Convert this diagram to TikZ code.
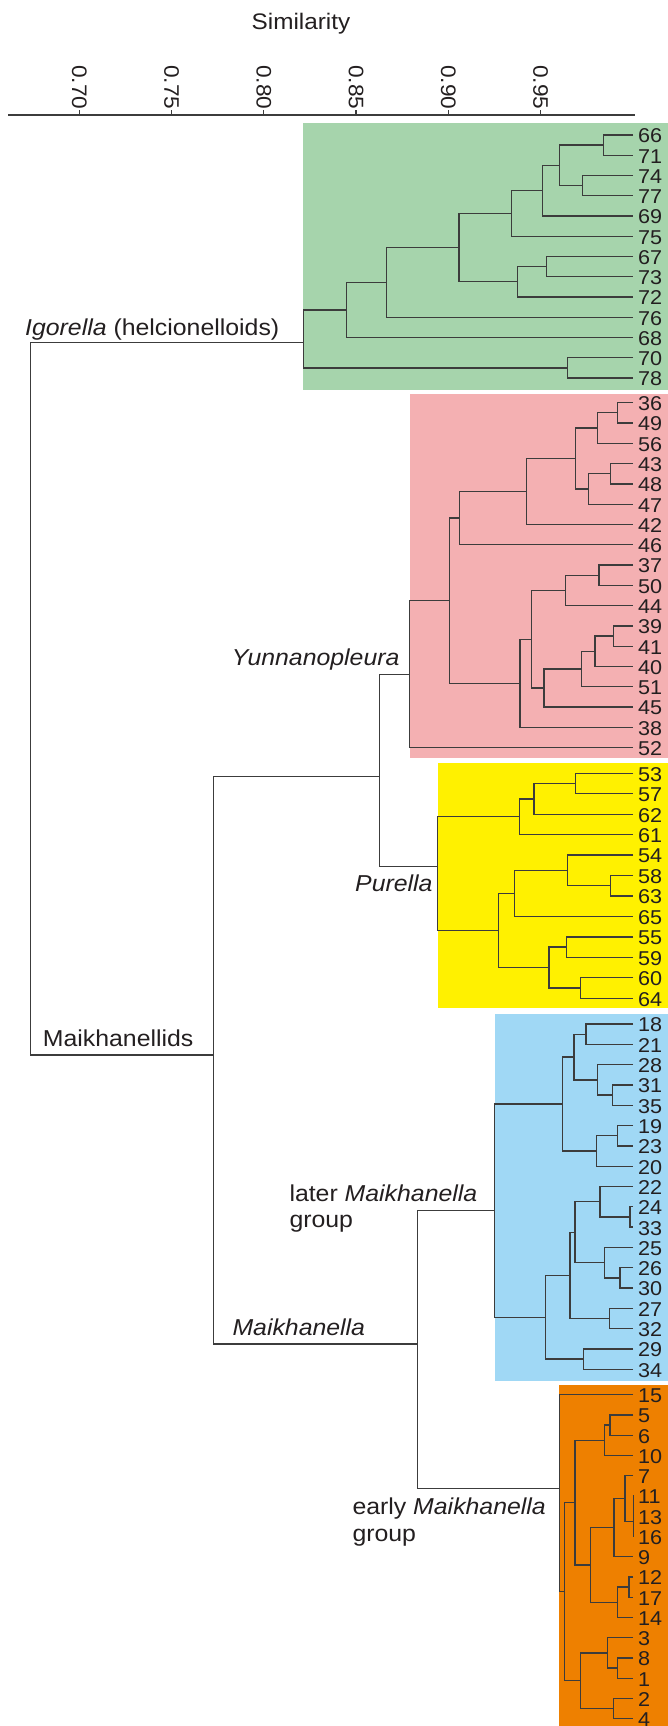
\documentclass[tikz,border=0pt]{standalone}
\usepackage{fontspec}
\setmainfont[FakeStretch=1.08]{Liberation Sans}
\usetikzlibrary{calc}
\definecolor{gbox}{RGB}{166,212,172}
\definecolor{pbox}{RGB}{244,176,178}
\definecolor{ybox}{RGB}{255,241,0}
\definecolor{bbox}{RGB}{160,216,245}
\definecolor{obox}{RGB}{238,128,0}
\definecolor{ink}{RGB}{60,60,60}
\definecolor{txt}{RGB}{35,31,32}
\newcommand\jn[4]{\coordinate (m#1) at ($(#3)!0.5!(#4)$); \coordinate (x#1) at (#2,0); \coordinate (#1) at (x#1 |- m#1); \draw[br] (#3) -| (#1) |- (#4);}
\newcommand\jny[5]{\coordinate (#1) at (#2,#3); \draw[br] (#4) -| (#1) |- (#5);}
\newcommand\leafat[2]{\coordinate (l#1) at (633,#2); \node[leaf] (t#1) at (l#1) {#1};}
\tikzset{
  br/.style={draw=ink, line width=1.3pt},
  leaf/.style={anchor=west, xshift=5pt, yshift=-1pt, inner sep=0pt, text=txt, font=\fontsize{20}{20}\selectfont},
  grp/.style={anchor=base west, inner sep=0pt, text=txt, font=\fontsize{23}{26}\selectfont},
  ticklab/.style={rotate=-90, anchor=east, inner sep=0pt, text=txt, font=\fontsize{21}{21}\selectfont},
}
\begin{document}
\begin{tikzpicture}[x=1pt,y=-1pt]
\useasboundingbox[fill=white] (0,0) rectangle (668,1726);
% coloured cluster boxes
\fill[gbox] (303.3,123.3) rectangle (668,390);
\fill[pbox] (409.5,394) rectangle (668,758.3);
\fill[ybox] (437.5,763) rectangle (668,1008.3);
\fill[bbox] (494.5,1013.5) rectangle (668,1381);
\fill[obox] (559.3,1385) rectangle (668,1726);
% axis
\node[anchor=base, inner sep=0pt, text=txt, font=\fontsize{22.5}{22.5}\selectfont] (sim) at (301,30) {Similarity};
\coordinate (axL) at (8,115);
\coordinate (axR) at (635,115);
\draw[br] (axL) -- (axR);
\foreach \v [count=\k from 0] in {0.70,0.75,0.80,0.85,0.90,0.95} {
  \coordinate (tk\k) at ({79.3+92.25*\k},115);
  \draw[br] (tk\k) -- ++(0,-4.5);
  \node[ticklab] (tl\k) at ({79.3+92.25*\k},109.5) {\v};
}
% leaves
\foreach \n [count=\i from 0] in {66,71,74,77,69,75,67,73,72,76,68,70,78} {\leafat{\n}{{135+20.25*\i}}}
\foreach \n [count=\i from 0] in {36,49,56,43,48,47,42,46,37,50,44,39,41,40,51,45,38,52} {\leafat{\n}{{402.7+20.29*\i}}}
\foreach \n [count=\i from 0] in {53,57,62,61,54,58,63,65,55,59,60,64} {\leafat{\n}{{773.3+20.45*\i}}}
\foreach \n [count=\i from 0] in {18,21,28,31,35,19,23,20,22,24,33,25,26,30,27,32,29,34} {\leafat{\n}{{1024+20.31*\i}}}
\foreach \n [count=\i from 0] in {15,5,6,10,7,11,13,16,9,12,17,14,3,8,1,2,4} {\leafat{\n}{{1394.7+20.25*\i}}}
% green
\jn{g1}{603.3}{l66}{l71}
\jn{g2}{582.3}{l74}{l77}
\jn{g3}{559.3}{g1}{g2}
\jn{g4}{542.7}{g3}{l69}
\jn{g5}{511.7}{g4}{l75}
\jn{g6}{546.7}{l67}{l73}
\jn{g7}{517.7}{g6}{l72}
\jn{g8}{459}{g5}{g7}
\jn{g9}{386.7}{g8}{l76}
\jn{g10}{346.7}{g9}{l68}
\jn{g11}{567.7}{l70}{l78}
\jny{groot}{303.5}{342.7}{g10}{g11}
% pink
\jn{p1}{617.3}{l36}{l49}
\jn{p2}{597.7}{p1}{l56}
\jn{p3}{610.7}{l43}{l48}
\jn{p4}{588.3}{p3}{l47}
\jn{p5}{575.7}{p2}{p4}
\jn{p6}{526.7}{p5}{l42}
\jn{p7}{459.3}{p6}{l46}
\jn{p8}{599}{l37}{l50}
\jn{p9}{565.7}{p8}{l44}
\jn{p10}{613.3}{l39}{l41}
\jn{p11}{595}{p10}{l40}
\jn{p12}{581.7}{p11}{l51}
\jn{p13}{544}{p12}{l45}
\jn{p14}{531.7}{p9}{p13}
\jn{p15}{520}{p14}{l38}
\jn{p16}{449.3}{p7}{p15}
\jn{proot}{409.5}{p16}{l52}
% yellow
\jn{y1}{575.7}{l53}{l57}
\jn{y2}{534}{y1}{l62}
\jn{y3}{519.3}{y2}{l61}
\jn{y4}{610.7}{l58}{l63}
\jn{y5}{567.7}{l54}{y4}
\jn{y6}{514.3}{y5}{l65}
\jn{y7}{566.7}{l55}{l59}
\jn{y8}{580.7}{l60}{l64}
\jn{y9}{549}{y7}{y8}
\jn{y10}{498.3}{y6}{y9}
\jny{yroot}{437.5}{866.7}{y3}{y10}
\jny{yp}{379.3}{776.7}{proot}{yroot}
% blue
\jn{b1}{586}{l18}{l21}
\jn{b2}{612.3}{l31}{l35}
\jn{b3}{597.3}{l28}{b2}
\jn{b4}{574}{b1}{b3}
\jn{b5}{617.3}{l19}{l23}
\jn{b6}{596.7}{b5}{l20}
\jn{b7}{562.3}{b4}{b6}
\jn{b8}{630}{l24}{l33}
\jn{b9}{600}{l22}{b8}
\jn{b10}{620}{l26}{l30}
\jn{b11}{604.3}{l25}{b10}
\jn{b12}{575}{b9}{b11}
\jn{b13}{609.3}{l27}{l32}
\jn{b14}{570}{b12}{b13}
\jn{b15}{583.7}{l29}{l34}
\jn{b16}{545.8}{b14}{b15}
\jn{broot}{494.5}{b7}{b16}
% orange
\jn{o1}{610}{l5}{l6}
\jn{o2}{604.3}{o1}{l10}
\jn{o3}{633.5}{l11}{l13}
\jn{o4}{633.5}{o3}{l16}
\jn{o5}{625}{l7}{o4}
\jn{o6}{614}{o5}{l9}
\jn{o7}{629}{l12}{l17}
\jn{o8}{617.5}{o7}{l14}
\jn{o9}{590.7}{o6}{o8}
\jn{o10}{575}{o2}{o9}
\jn{o11}{617.5}{l8}{l1}
\jn{o12}{607.3}{l3}{o11}
\jn{o13}{613.5}{l2}{l4}
\jn{o14}{580.3}{o12}{o13}
\jn{o15}{564.5}{o10}{o14}
\jny{oroot}{559.3}{1488.3}{l15}{o15}
% upper levels
\jny{mk}{417.3}{1344}{broot}{oroot}
\jny{mkd}{213.3}{1055}{yp}{mk}
\coordinate (root) at (30.7,700);
\draw[br] (groot) -| (root) |- (mkd);
% group labels
\node[grp] (tIg) at (25,335) {\textit{Igorella} (helcionelloids)};
\node[grp] (tYu) at (231.7,665) {\textit{Yunnanopleura}};
\node[grp] (tPu) at (355,891) {\textit{Purella}};
\node[grp] (tMd) at (42.7,1046) {Maikhanellids};
\node[grp] (tLa) at (289.3,1201) {later \textit{Maikhanella}};
\node[grp] (tLb) at (289.3,1227.5) {group};
\node[grp] (tMk) at (232.3,1335) {\textit{Maikhanella}};
\node[grp] (tEa) at (352.3,1514.3) {early \textit{Maikhanella}};
\node[grp] (tEb) at (352.3,1541) {group};
\end{tikzpicture}
\end{document}
